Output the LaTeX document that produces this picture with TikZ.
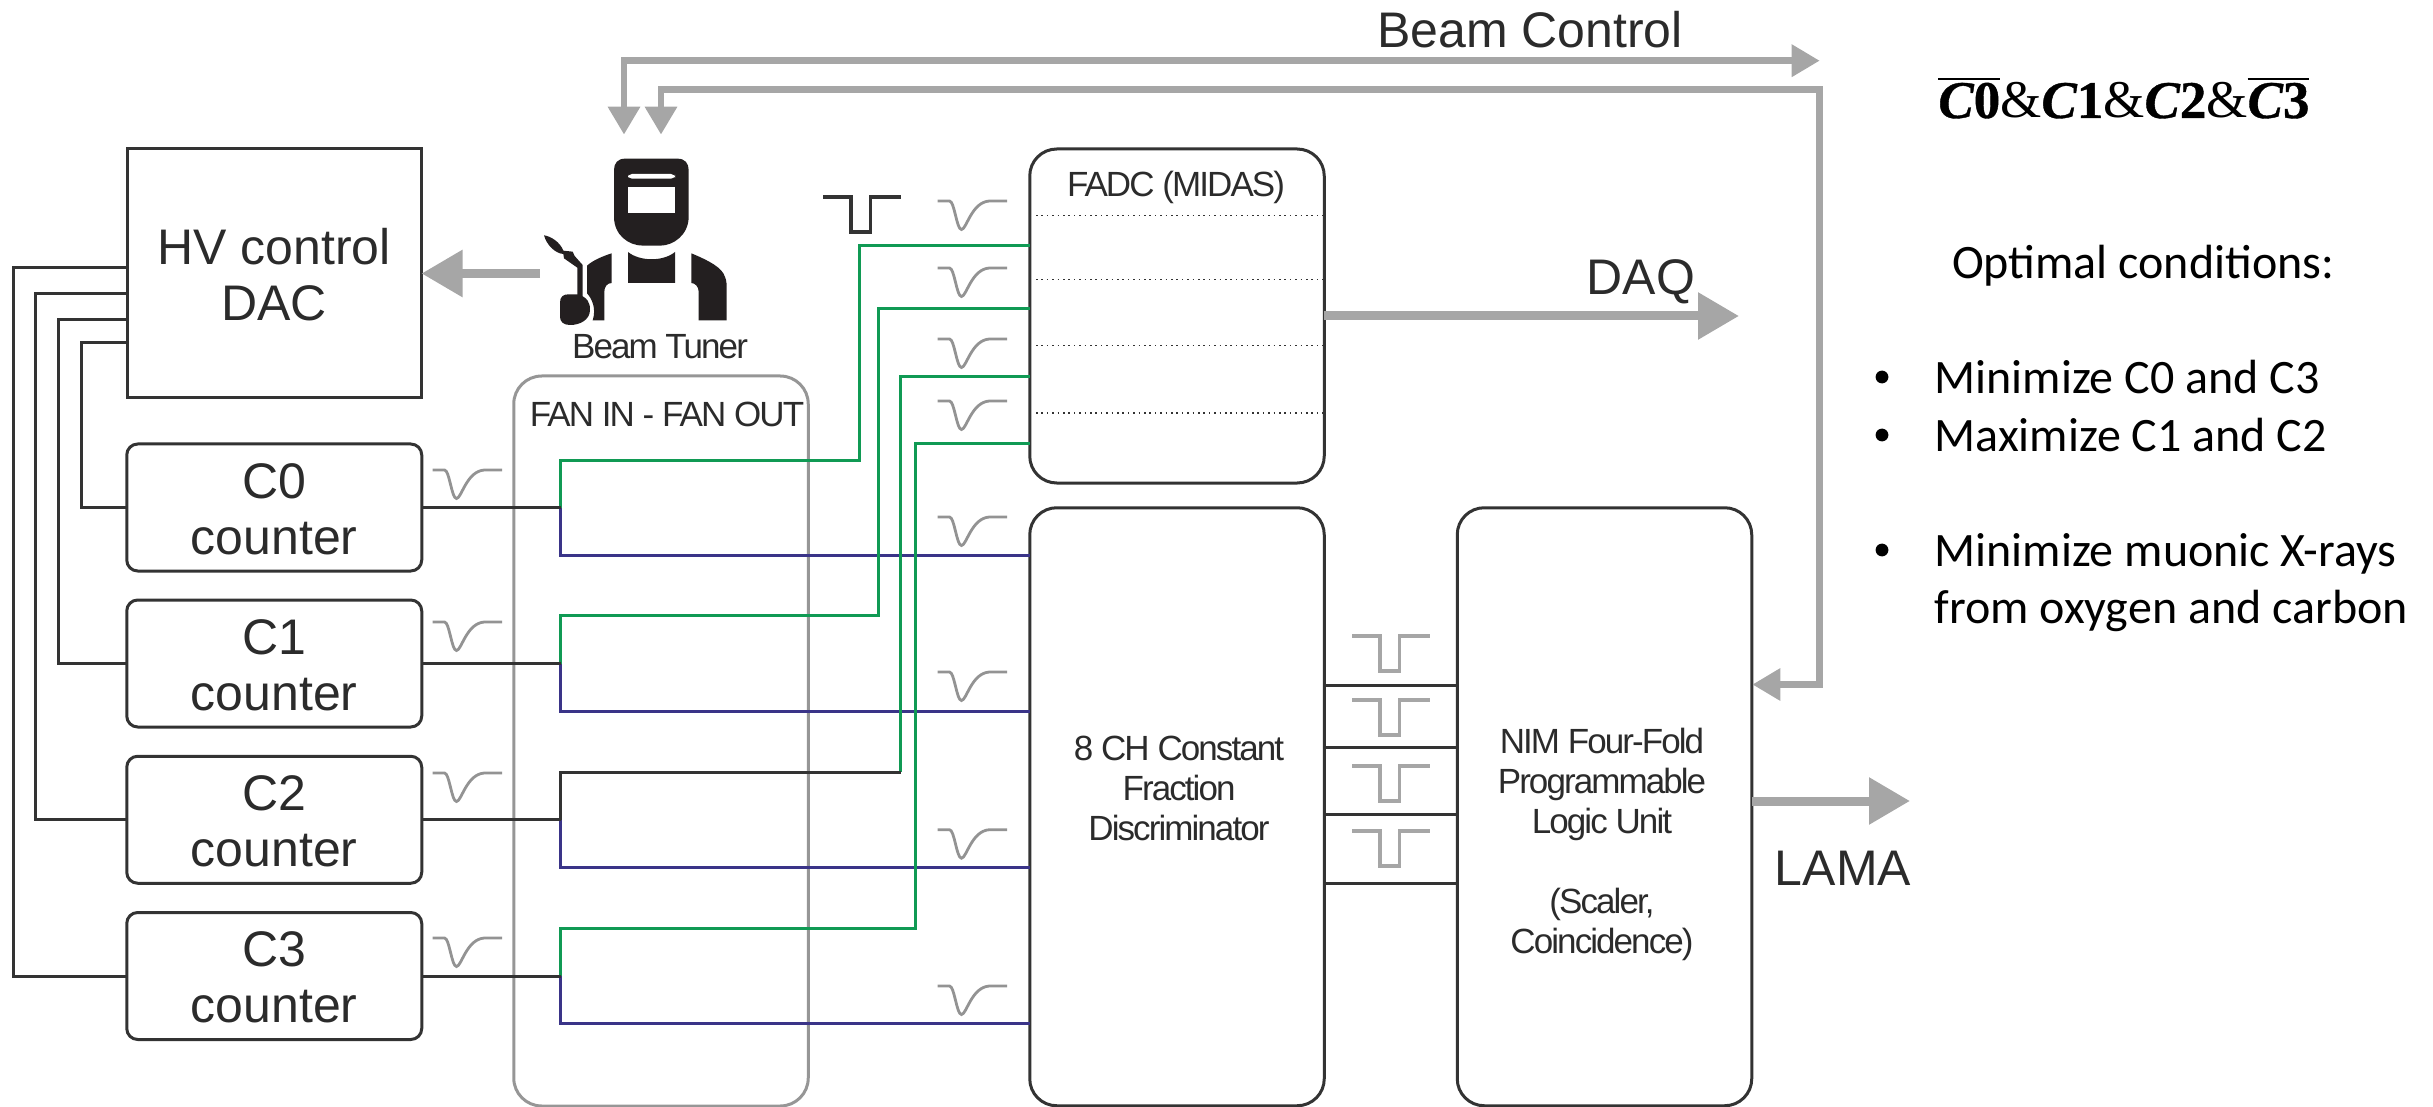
\documentclass[tikz,border=0pt]{standalone}
\usepackage{fontspec}
\usetikzlibrary{arrows.meta}
\setmainfont{Liberation Sans}
\newfontfamily\tightsans[LetterSpace=-5.5]{Liberation Sans}
\newfontfamily\plainsans{Liberation Sans}
\newfontfamily\rightsans{Carlito}
\newfontfamily\eqserif[BoldFeatures={FakeBold=0.7},BoldItalicFeatures={FakeBold=0.7}]{Liberation Serif}
\newcommand{\ovlbar}[1]{\leavevmode\vbox{\hrule height 1.2pt\kern 1.4pt\hbox{#1}}}
\newcommand{\eqC}[1]{{\bfseries\itshape C}{\bfseries #1}}
\newcommand{\lowstrut}{\rule{0pt}{19.2pt}}
\definecolor{inkdark}{HTML}{333333}
\definecolor{txtdark}{HTML}{2B2B2B}
\definecolor{wiregreen}{HTML}{109A54}
\definecolor{wireblue}{HTML}{3A3488}
\definecolor{fangray}{HTML}{969696}
\definecolor{pulsegray}{HTML}{939393}
\definecolor{sqgray}{HTML}{A6A6A6}
\definecolor{arrgray}{HTML}{A6A6A6}
\definecolor{weld}{HTML}{231F20}
\tikzset{
  boxbase/.style={draw=inkdark,line width=1.5pt,inner sep=0pt,outer sep=0pt,align=center,text=txtdark},
  bigtext/.style={font=\plainsans\fontsize{25}{28}\selectfont},
  smalltext/.style={font=\tightsans\fontsize{17.5}{20}\selectfont,text=txtdark,inner sep=0pt,outer sep=0pt,align=center},
  largelabel/.style={font=\plainsans\fontsize{25}{28}\selectfont,text=txtdark,inner sep=0pt,outer sep=0pt},
  rtext/.style={font=\rightsans\fontsize{24}{28}\selectfont,text=black,inner sep=0pt,outer sep=0pt,anchor=base west},
  counterbox/.style={boxbase,bigtext,rounded corners=5.5pt,minimum width=147.5pt,minimum height=63.5pt},
  modbox/.style={boxbase,rounded corners=13.5pt,minimum width=147.25pt},
  darkwire/.style={draw=inkdark,line width=1.5pt},
  greenwire/.style={draw=wiregreen,line width=1.5pt},
  bluewire/.style={draw=wireblue,line width=1.5pt},
  ctrlarrow/.style={draw=arrgray,line width=3.3pt,{Triangle[length=14pt,width=15.5pt]}-{Triangle[length=14pt,width=15.5pt]}},
  bigarrow/.style={draw=arrgray,line width=4.5pt,-{Triangle[length=20.5pt,width=22.5pt]}},
  vpulse/.pic={\draw[draw=pulsegray,line width=1.4pt] (0,0) -- (12,0) .. controls (17,0) and (19,28.5) .. (24,28.5) .. controls (29,28.5) and (34,1) .. (52,0) -- (69.5,0);},
  sqpulse/.pic={\draw[line width=1.6pt,pic actions] (0,0) -- (28,0) -- (28,35) -- (47.5,35) -- (47.5,0) -- (78,0);}
}
\begin{document}
\begin{tikzpicture}[x=0.5pt,y=-0.5pt]
\useasboundingbox (0,0) rectangle (2433,1107);

% fan in / fan out enclosure
\node[draw=fangray,line width=1.5pt,rounded corners=14pt,inner sep=0pt,outer sep=0pt,minimum width=147.25pt,minimum height=365pt] (fan) at (661,741) {};
\node[smalltext,anchor=base] (fanlabel) at (667,427) {FAN IN - FAN OUT};

% boxes
\node[boxbase,bigtext,minimum width=147.25pt,minimum height=124.5pt] (hv) at (274.25,273.5) {\lowstrut HV control\\DAC};
\node[counterbox] (c0) at (274.25,507.5) {\lowstrut C0\\counter};
\node[counterbox] (c1) at (274.25,663.5) {\lowstrut C1\\counter};
\node[counterbox] (c2) at (274.25,819.75) {\lowstrut C2\\counter};
\node[counterbox] (c3) at (274.25,976) {\lowstrut C3\\counter};
\node[modbox,minimum height=167pt] (fadc) at (1177,316) {};
\node[modbox,minimum height=299pt] (cfd) at (1177,806.75) {};
\node[modbox,minimum height=299pt] (logic) at (1604.5,806.75) {};

% box texts
\node[smalltext,anchor=base] (fadclabel) at (1176,197) {FADC (MIDAS)};
\node[smalltext] (cfdlabel) at (1179,788.5) {8 CH Constant\\Fraction\\Discriminator};
\node[smalltext] (logiclabel) at (1602,844) {NIM Four-Fold\\Programmable\\Logic Unit\\[20pt](Scaler,\\Coincidence)};
\node[smalltext,anchor=base] (tunerlabel) at (660,359) {Beam Tuner};

% dotted separators inside the FADC
\foreach \yy/\nm in {215.7/a,279.7/b,345.7/c,413/d}{
  \coordinate (dot\nm) at (1036,\yy);
  \draw[draw=inkdark,line width=0.55pt,dash pattern=on 0.8pt off 1.9pt] (dot\nm) -- (fadc.east |- dot\nm);
}

% control lines left side
\coordinate (l3) at (13,268);
\coordinate (l2) at (35.6,293.5);
\coordinate (l1) at (58,320);
\coordinate (l0) at (81.6,343);
\draw[darkwire] (hv.west |- l3) -- (l3) |- (c3.west);
\draw[darkwire] (hv.west |- l2) -- (l2) |- (c2.west);
\draw[darkwire] (hv.west |- l1) -- (l1) |- (c1.west);
\draw[darkwire] (hv.west |- l0) -- (l0) |- (c0.west);

% junctions
\coordinate (j0) at (560.5,507.5);
\coordinate (j1) at (560.5,663.5);
\coordinate (j2) at (560.5,819.75);
\coordinate (j3) at (560.5,976);
\coordinate (g0a) at (859.6,460);   \coordinate (g0b) at (859.6,246);
\coordinate (g1a) at (878.5,615.6); \coordinate (g1b) at (878.5,309);
\coordinate (g2a) at (900.7,772);   \coordinate (g2b) at (900.7,376.7);
\coordinate (g3a) at (915.6,928);   \coordinate (g3b) at (915.6,444);
\coordinate (b0) at (700,555.7);
\coordinate (b1) at (700,711.8);
\coordinate (b2) at (700,867.7);
\coordinate (b3) at (700,1023.7);

% blue branches
\draw[bluewire] (j0) |- (cfd.west |- b0);
\draw[bluewire] (j1) |- (cfd.west |- b1);
\draw[bluewire] (j2) |- (cfd.west |- b2);
\draw[bluewire] (j3) |- (cfd.west |- b3);
% green branches
\draw[greenwire] (j0) |- (g0a) -- (g0b) -- (fadc.west |- g0b);
\draw[greenwire] (j1) |- (g1a) -- (g1b) -- (fadc.west |- g1b);
\draw[greenwire] (g2a) -- (g2b) -- (fadc.west |- g2b);
\draw[darkwire] (j2) |- (g2a);
\draw[greenwire] (j3) |- (g3a) -- (g3b) -- (fadc.west |- g3b);
% counter outputs
\draw[darkwire] (c0.east) -- (j0);
\draw[darkwire] (c1.east) -- (j1);
\draw[darkwire] (c2.east) -- (j2);
\draw[darkwire] (c3.east) -- (j3);

% CFD to logic
\coordinate (s1) at (1400,685);
\coordinate (s2) at (1400,747);
\coordinate (s3) at (1400,814);
\coordinate (s4) at (1400,883);
\draw[darkwire] (cfd.east |- s1) -- (logic.west |- s1);
\draw[darkwire] (cfd.east |- s2) -- (logic.west |- s2);
\draw[darkwire] (cfd.east |- s3) -- (logic.west |- s3);
\draw[darkwire] (cfd.east |- s4) -- (logic.west |- s4);

% pulses
\foreach \yy in {470,622,773,938} \pic at (432.5,\yy) {vpulse};
\foreach \yy in {201,268,339,401,517,672,829.7,986} \pic at (937.5,\yy) {vpulse};
\foreach \yy in {636,700,766,831} \pic[draw=sqgray] at (1352,\yy) {sqpulse};
\pic[draw=inkdark] at (823,197) {sqpulse};

% thick grey arrows
\coordinate (tune1) at (624,134.6);
\coordinate (tune2) at (661,134.6);
\coordinate (bc1) at (1819.7,60.7);
\coordinate (bc2) at (1819.7,89.5);
\coordinate (torchend) at (540,273.5);
\coordinate (daqtip) at (1739,316);
\coordinate (lamatip) at (1910,801);
\coordinate (logicin) at (1752.4,684.5);
\draw[ctrlarrow] (tune1) |- (bc1);
\draw[ctrlarrow] (tune2) |- (bc2) |- (logicin);
\draw[bigarrow] (torchend) -- (hv.east);
\draw[bigarrow] (fadc.east) -- (daqtip);
\draw[bigarrow] (logic.east |- lamatip) -- (lamatip);

% big labels
\node[largelabel,anchor=base] (bclabel) at (1530,47.5) {Beam Control};
\node[largelabel,anchor=base] (daqlabel) at (1641,294.5) {DAQ};
\node[largelabel,anchor=base] (lamalabel) at (1843,885) {LAMA};

% welder figure
\begin{scope}[shift={(500,120)},xscale=1/3,yscale=1/3]
  \fill[weld] (375,116) -- (533,116) .. controls (555,116) and (566,130) .. (566,150) -- (566,290) .. controls (566,345) and (520,377) .. (480,377) -- (430,377) .. controls (385,377) and (342,345) .. (342,290) -- (342,150) .. controls (342,130) and (353,116) .. (375,116) -- cycle;
  \fill[white] (384,200) rectangle (525,279);
  \fill[white,rounded corners=2pt] (384,162) rectangle (525,176);
  \fill[weld] (384,396) .. controls (420,425) and (490,425) .. (525,396) -- (525,489) -- (384,489) -- cycle;
  \fill[weld] (574,400) .. controls (610,415) and (655,435) .. (670,460) .. controls (678,475) and (680,485) .. (680,500) -- (680,601) -- (596,601) -- (596,515) .. controls (596,500) and (585,489) .. (574,489) -- cycle;
  \fill[weld] (335,400) .. controls (310,408) and (280,420) .. (261,437) -- (261,520) .. controls (275,535) and (290,565) .. (278,601) -- (313,601) -- (313,515) .. controls (313,500) and (322,489) .. (335,489) -- cycle;
  \fill[weld] (132,346) .. controls (150,348) and (180,365) .. (190,392) -- (218,395) -- (224,408) -- (248,435) -- (248,535) -- (232,528) -- (232,443) -- (192,415) -- (190,402) .. controls (165,400) and (140,375) .. (132,346) -- cycle;
  \fill[weld] (205,523) -- (232,523) .. controls (262,530) and (272,550) .. (270,572) .. controls (268,600) and (240,615) .. (210,615) .. controls (190,615) and (180,605) .. (180,590) -- (180,548) .. controls (180,530) and (190,523) .. (205,523) -- cycle;
\end{scope}

% right-hand text
\node[inner sep=0pt,outer sep=0pt,anchor=base west,font=\eqserif\fontsize{26.5}{30}\selectfont] (eq) at (1938.4,118) {\ovlbar{\eqC{0}}\&\eqC{1}\&\eqC{2}\&\ovlbar{\eqC{3}}};
\node[rtext] (opt) at (1952,278.5) {Optimal conditions:};
\node[rtext] (m1) at (1934.5,393.5) {Minimize C0 and C3};
\node[rtext] (m2) at (1934.5,451.5) {Maximize C1 and C2};
\node[rtext] (m3) at (1934.5,566.5) {Minimize muonic X-rays};
\node[rtext] (m4) at (1934.5,623.5) {from oxygen and carbon};
\foreach \yy in {377,435,550} \fill[black] (1882,\yy) circle (3.2pt);
\end{tikzpicture}
\end{document}
